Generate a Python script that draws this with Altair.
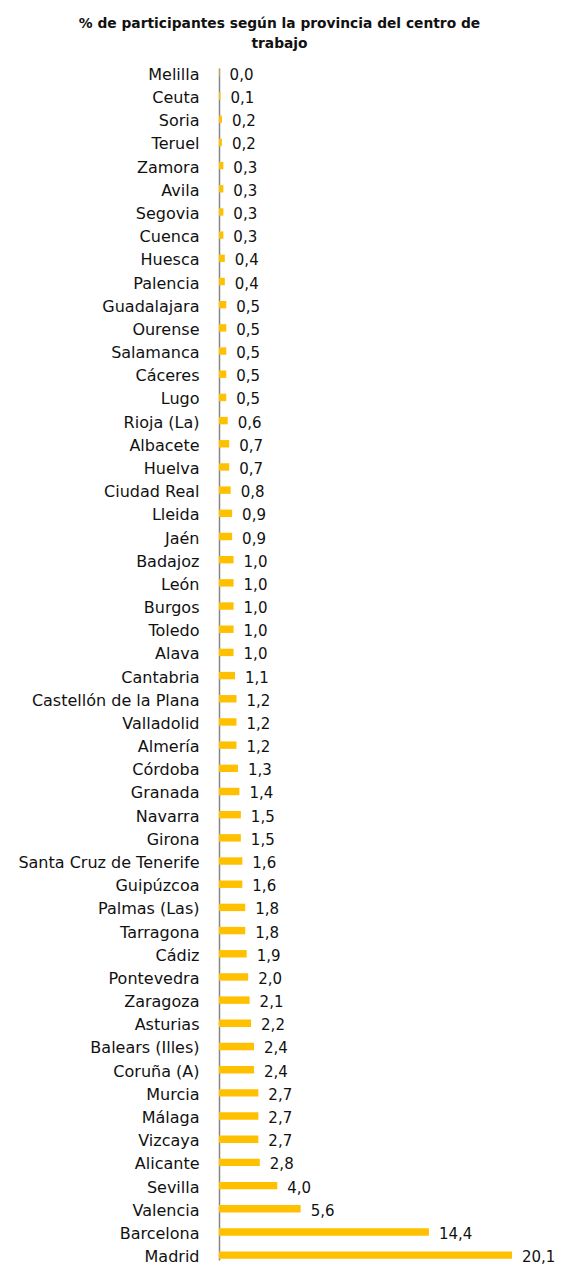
import altair as alt
import pandas as pd

provincias = ["Melilla", "Ceuta", "Soria", "Teruel", "Zamora", "Avila", "Segovia", "Cuenca",
              "Huesca", "Palencia", "Guadalajara", "Ourense", "Salamanca", "Cáceres", "Lugo",
              "Rioja (La)", "Albacete", "Huelva", "Ciudad Real", "Lleida", "Jaén", "Badajoz",
              "León", "Burgos", "Toledo", "Alava", "Cantabria", "Castellón de la Plana",
              "Valladolid", "Almería", "Córdoba", "Granada", "Navarra", "Girona",
              "Santa Cruz de Tenerife", "Guipúzcoa", "Palmas (Las)", "Tarragona", "Cádiz",
              "Pontevedra", "Zaragoza", "Asturias", "Balears (Illes)", "Coruña (A)", "Murcia",
              "Málaga", "Vizcaya", "Alicante", "Sevilla", "Valencia", "Barcelona", "Madrid"]
valores = [0.04, 0.1, 0.2, 0.2, 0.3, 0.3, 0.3, 0.3, 0.4, 0.4, 0.5, 0.5, 0.5, 0.5, 0.5, 0.6,
           0.7, 0.7, 0.8, 0.9, 0.9, 1.0, 1.0, 1.0, 1.0, 1.0, 1.1, 1.2, 1.2, 1.2, 1.3, 1.4,
           1.5, 1.5, 1.6, 1.6, 1.8, 1.8, 1.9, 2.0, 2.1, 2.2, 2.4, 2.4, 2.7, 2.7, 2.7, 2.8,
           4.0, 5.6, 14.4, 20.1]
titulo = ["% de participantes según la provincia del centro de", "trabajo"]

df = pd.DataFrame({"provincia": provincias, "valor": valores})

FONT = "DejaVu Sans"

base = alt.Chart(df).encode(
    y=alt.Y("provincia:N", sort=provincias,
            scale=alt.Scale(paddingInner=0.68, paddingOuter=0.05),
            axis=alt.Axis(title=None, ticks=False, domainColor="#868686", domainWidth=1.5,
                          labelFont=FONT, labelFontSize=16, labelColor="#111111",
                          labelPadding=20, labelOffset=2, labelLimit=260)),
)

bars = base.mark_bar(color="#FFC000").encode(
    x=alt.X("valor:Q", scale=alt.Scale(domain=[0, 20.1], nice=False, zero=True), axis=None)
)

labels = base.mark_text(align="left", dx=10, dy=2, font=FONT, fontSize=15,
                        color="#111111").encode(
    x=alt.X("valor:Q"),
    text=alt.Text("etiqueta:N"),
).transform_calculate(etiqueta="replace(format(datum.valor, '.1f'), '.', ',')")

chart = alt.layer(bars, labels).properties(
    width=293, height=1192,
    autosize=alt.AutoSizeParams(type="none"),
    padding={"left": 211, "top": 60, "right": 43, "bottom": 8},
    title=alt.TitleParams(text=titulo, font=FONT, fontSize=13.8, fontWeight="bold",
                          color="#111111", anchor="middle", dx=-86, offset=16,
                          lineHeight=20),
).configure_view(stroke=None)

chart.save("out.html", embed_options={"renderer": "svg", "actions": False})
